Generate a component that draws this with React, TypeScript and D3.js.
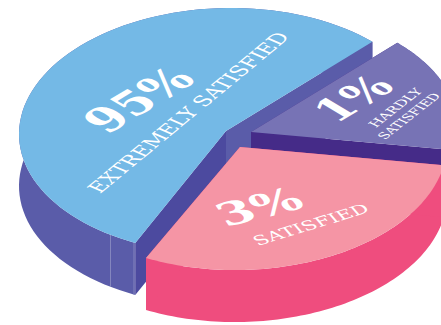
import React from 'react';
import * as d3 from 'd3';

// Survey shares and their captions
const percentLabels = ['95%', '3%', '1%'];
const captionLines = [['EXTREMELY SATISFIED'], ['SATISFIED'], ['HARDLY', 'SATISFIED']];
// Sector sweep on the drawn disc, in degrees clockwise from the +x axis
const startAngles = [116, 10, -45];
const endAngles = [315, 117, 10];
// Where each sector's apex sits after being pulled out of the pie
const apexX = [226, 240, 251];
const apexY = [131, 147, 132];
const topColors = ['#74b9e6', '#f595a5', '#7773b5'];
const outerWallColors = ['#5a5ca9', '#ef4d7e', '#5a5ca9'];
const sideWallColors = ['#4c4a9f', '#ef4d7e', '#452b88'];

const WIDTH = 441;
const HEIGHT = 325;
const RX = 207;
const RY = 123;
const SQUASH = RY / RX;
const TILT = 0.015;
const DEPTH = 52;

const rad = d3.scaleLinear().domain([0, 180]).range([0, Math.PI]);
const pathOf = d3.line<[number, number]>().x(d => d[0]).y(d => d[1]);

function rimPoints(i: number): [number, number][] {
  const n = 80;
  const angle = d3.scaleLinear().domain([0, n]).range([startAngles[i], endAngles[i]]);
  return d3.range(n + 1).map(k => {
    const t = rad(angle(k));
    const dx = RX * Math.cos(t);
    return [apexX[i] + dx, apexY[i] + RY * Math.sin(t) - TILT * dx] as [number, number];
  });
}

function extrude(pts: [number, number][]): string {
  const lower = pts.map(p => [p[0], p[1] + DEPTH] as [number, number]).reverse();
  return pathOf([...pts, ...lower])! + 'Z';
}

function Sector({ i }: { i: number }) {
  const rim = rimPoints(i);
  const apex: [number, number] = [apexX[i], apexY[i]];
  return (
    <g>
      <path d={extrude(rim)} fill={outerWallColors[i]} />
      <path d={extrude([rim[0], apex])} fill={sideWallColors[i]} />
      <path d={extrude([apex, rim[rim.length - 1]])} fill={i === 0 ? outerWallColors[i] : sideWallColors[i]} />
      <path d={pathOf([apex, ...rim])! + 'Z'} fill={topColors[i]} />
    </g>
  );
}

// Text lying flat on the disc: rotate in the disc's plane, then squash with it
const onDisc = (x: number, y: number, angle: number) =>
  `translate(${x},${y}) scale(1,${SQUASH}) rotate(${angle})`;

export default function App() {
  return (
    <svg width={WIDTH} height={HEIGHT} style={{ position: 'absolute', left: 0, top: 0 }}>
      <Sector i={0} />
      <line x1={110.5} y1={235} x2={110.5} y2={287} stroke="#8f90c4" strokeWidth={0.8} />
      <line x1={134} y1={243} x2={134} y2={295} stroke="#8f90c4" strokeWidth={0.8} />
      <Sector i={2} />
      <Sector i={1} />

      <g fill="#fff" fontFamily='"DejaVu Serif", serif' stroke="none">
        <text transform={onDisc(107, 135, -45.3)} fontSize={55} fontWeight={700}>{percentLabels[0]}</text>
        <text transform={onDisc(100, 194, -54.2)} fontSize={24} textLength={326} lengthAdjust="spacingAndGlyphs">{captionLines[0][0]}</text>
        <text transform={onDisc(226, 227, -22.8)} fontSize={53} fontWeight={700}>{percentLabels[1]}</text>
        <text transform={onDisc(258, 246, -27.2)} fontSize={22} textLength={127} lengthAdjust="spacingAndGlyphs">{captionLines[1][0]}</text>
        <text transform={onDisc(336, 124, -45)} fontSize={52} fontWeight={700}>{percentLabels[2]}</text>
        <text transform={onDisc(376, 128, -52.7)} fontSize={15} textLength={78} lengthAdjust="spacingAndGlyphs">{captionLines[2][0]}</text>
        <text transform={onDisc(385, 140, -52.7)} fontSize={15} textLength={93} lengthAdjust="spacingAndGlyphs">{captionLines[2][1]}</text>
      </g>
    </svg>
  );
}
